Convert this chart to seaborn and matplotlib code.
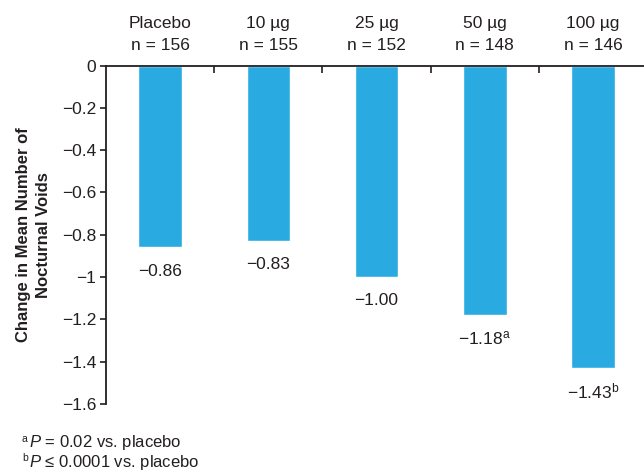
import numpy as np
import pandas as pd
import seaborn as sns
import matplotlib.pyplot as plt
from matplotlib.ticker import FixedLocator

# values
groups = ["Placebo", "10 \u00b5g", "25 \u00b5g", "50 \u00b5g", "100 \u00b5g"]
n_counts = [156, 155, 152, 148, 146]
changes = [-0.86, -0.83, -1.00, -1.18, -1.43]
sig_marks = ["", "", "", "a", "b"]
y_ticks = [0, -0.2, -0.4, -0.6, -0.8, -1.0, -1.2, -1.4, -1.6]
y_tick_labels = ["0", "\u22120.2", "\u22120.4", "\u22120.6", "\u22120.8",
                 "\u22121", "\u22121.2", "\u22121.4", "\u22121.6"]
footnote_marks = ["a", "b"]
footnote_texts = [" = 0.02 vs. placebo", " \u2264 0.0001 vs. placebo"]

sns.set_theme(style="white")
plt.rcParams["font.family"] = ["Liberation Sans", "DejaVu Sans"]
plt.rcParams["mathtext.fontset"] = "custom"
plt.rcParams["mathtext.rm"] = "Liberation Sans"
plt.rcParams["mathtext.it"] = "Liberation Sans:italic"
plt.rcParams["mathtext.bf"] = "Liberation Sans:bold"

ink = "#231f20"
bar_color = "#29abe2"

df = pd.DataFrame({"group": groups, "change": changes})

fig = plt.figure(figsize=(6.44, 4.72), dpi=100)
ax = fig.add_axes([106 / 644, 1 - 404 / 472, 1 - 106 / 644, (404 - 65.5) / 472])

sns.barplot(data=df, x="group", y="change", color=bar_color, saturation=1,
            width=0.4, ax=ax)

ax.set_xlim(-0.5, 4.47)
ax.set_ylim(-1.6, 0)

# category labels on the top axis, boundary ticks as minor ticks
ax.xaxis.tick_top()
ax.set_xticks(range(len(groups)))
ax.set_xticklabels([f"{g}\nn = {n}" for g, n in zip(groups, n_counts)],
                   fontsize=12.5, color=ink, linespacing=1.6)
ax.xaxis.set_minor_locator(FixedLocator([0.5, 1.5, 2.5, 3.5]))
ax.tick_params(axis="x", which="major", length=0, pad=9)
ax.tick_params(axis="x", which="minor", top=True, direction="in",
               length=5, width=1.2, color=ink)
ax.set_xlabel("")

ax.set_yticks(y_ticks)
ax.set_yticklabels(y_tick_labels, fontsize=12.5, color=ink)
ax.tick_params(axis="y", left=True, direction="out", length=4, width=1.2,
               color=ink, pad=3)
ax.set_ylabel("Change in Mean Number of\nNocturnal Voids", fontsize=12,
              fontweight="bold", color=ink, labelpad=8, linespacing=1.4)

for side in ["right", "bottom"]:
    ax.spines[side].set_visible(False)
for side in ["left", "top"]:
    ax.spines[side].set_color(ink)
    ax.spines[side].set_linewidth(1.3)

# value labels under each bar
for i, (v, m) in enumerate(zip(changes, sig_marks)):
    label = f"\u2212{abs(v):.2f}"
    if m:
        label += r"$^{\mathrm{" + m + "}}$"
    ax.annotate(label, xy=(i, v), xytext=(0, -17), textcoords="offset points",
                ha="center", va="center", fontsize=12.5, color=ink)

for k, (m, t) in enumerate(zip(footnote_marks, footnote_texts)):
    y = 1 - (443 + 19 * k) / 472
    fig.text(22 / 644, y + 0.008, m, fontsize=7.5, color=ink,
             ha="left", va="center")
    fig.text(29 / 644, y, r"$\mathit{P}$" + t, fontsize=12, color=ink,
             ha="left", va="center")

fig.savefig("out.png", dpi=100)
